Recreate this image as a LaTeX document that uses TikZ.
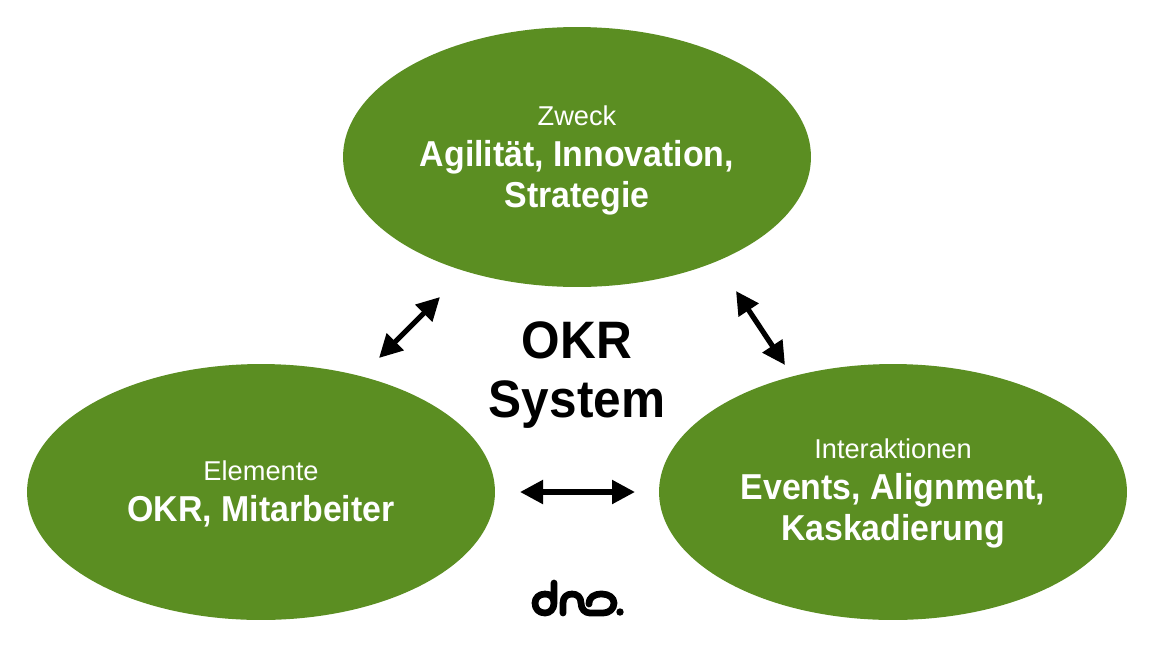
\documentclass[tikz,border=0pt]{standalone}
\usepackage{fontspec}
\setmainfont[BoldFeatures={FakeStretch=0.94}]{Liberation Sans}
\usetikzlibrary{arrows.meta,shapes.geometric}
\definecolor{okrgreen}{HTML}{5B8E22}
\tikzset{
	blob/.style={ellipse,fill=okrgreen,text=white,minimum width=9.36cm,minimum height=5.12cm,inner sep=0pt,align=center,font=\fontsize{20.5}{23.4}\selectfont\bfseries},
	both/.style={line width=0.105cm,{Triangle[length=0.46cm,width=0.46cm]}-{Triangle[length=0.46cm,width=0.46cm]}},
	logo/.style={line width=0.135cm,line cap=round,line join=round}
}
\newcommand{\thin}[2][13pt]{{\fontsize{15.5}{23.4}\selectfont\mdseries\rule{0pt}{#1}#2}}
\begin{document}
\begin{tikzpicture}[x=0.02cm,y=-0.02cm]
	\useasboundingbox (0,0) rectangle (1158,646);

	\node[blob,minimum height=5.2cm] (zweck) at (577,157) {\thin[15.5pt]{Zweck}\\Agilität, Innovation,\\Strategie};
	\node[blob] (elemente) at (261,492) {\thin{Elemente}\\OKR, Mitarbeiter};
	\node[blob] (interaktionen) at (893,492) {\thin{Interaktionen}\\Events, Alignment,\\Kaskadierung};

	\node[align=center,inner sep=0pt,font=\fontsize{30}{34}\selectfont\bfseries] (title) at (577,375) {OKR\\System};

	\coordinate (a1) at (379,358);
	\coordinate (a2) at (440,297);
	\coordinate (b1) at (736,291);
	\coordinate (b2) at (785,365);
	\coordinate (c1) at (520,492);
	\coordinate (c2) at (635,492);
	\draw[both] (a1) -- (a2);
	\draw[both] (b1) -- (b2);
	\draw[both] (c1) -- (c2);

	% logo
	\draw[logo] (554,583) -- (554,603) .. controls (554,597) and (550,594) .. (545,594) .. controls (539,594) and (535,598) .. (535,603) .. controls (535,609) and (539,613) .. (545,613) .. controls (550,613) and (554,609) .. (554,603);
	\draw[logo] (563,613) -- (563,603) .. controls (563,597) and (567,594) .. (572,594) .. controls (577,594) and (581,597) .. (581,603) .. controls (581,609) and (585,613) .. (590,613) -- (603,613) .. controls (609,613) and (614,609) .. (614,603) .. controls (614,598) and (609,594) .. (602,594) .. controls (594,594) and (589,597) .. (589,604);
	\fill (620,612) circle (3.7);
\end{tikzpicture}
\end{document}
